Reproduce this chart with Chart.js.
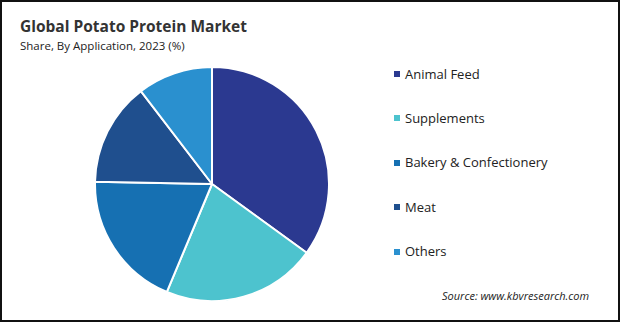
<!DOCTYPE html>
<html>
<head>
<meta charset="utf-8">
<script src="https://cdn.jsdelivr.net/npm/chart.js@4"></script>
<style>
    html, body { margin: 0; padding: 0; background: #fff; }
    #frame {
        position: relative;
        width: 620px;
        height: 322px;
        box-sizing: border-box;
        border: 2px solid #111;
        overflow: hidden;
        font-family: "Open Sans", "Noto Sans", sans-serif;
        color: #222;
    }
    #title {
        position: absolute; left: 18px; top: 13px;
        font-size: 15.5px; font-weight: 700; color: #333;
    }
    #subtitle {
        position: absolute; left: 18px; top: 36px;
        font-size: 11.5px; color: #222;
    }
    #pieBox {
        position: absolute; left: 91.5px; top: 64px;
        width: 236px; height: 236px;
    }
    #legend {
        position: absolute; left: 392px; top: 0;
    }
    .legend-item {
        position: absolute; white-space: nowrap;
        font-size: 13px; line-height: 18px; color: #222;
    }
    .legend-box {
        display: inline-block; width: 6px; height: 6px;
        margin-right: 5px; vertical-align: middle; position: relative; top: -1px;
    }
    #source {
        position: absolute; left: 440px; top: 286px;
        font-size: 11px; font-style: italic; color: #222;
    }
</style>
</head>
<body>
<div id="frame">
    <div id="title">Global Potato Protein Market</div>
    <div id="subtitle">Share, By Application, 2023 (%)</div>
    <div id="pieBox"><canvas id="pieChart"></canvas></div>
    <div id="legend"></div>
    <div id="source">Source: www.kbvresearch.com</div>
</div>
<script>
// Data
const categories = ['Animal Feed', 'Supplements', 'Bakery & Confectionery', 'Meat', 'Others'];
const shares = [35.0, 21.3, 19.0, 14.3, 10.4];
const sliceColors = ['#2b3990', '#4dc3ce', '#1670b2', '#1f4f8e', '#2a90cf'];

// Legend rows (HTML, built from the arrays)
const legendEl = document.getElementById('legend');
categories.forEach((name, i) => {
    const row = document.createElement('div');
    row.className = 'legend-item';
    row.style.top = (62.5 + i * 44.4) + 'px';
    const box = document.createElement('span');
    box.className = 'legend-box';
    box.style.background = sliceColors[i];
    row.appendChild(box);
    row.appendChild(document.createTextNode(name));
    legendEl.appendChild(row);
});

const ctx = document.getElementById('pieChart').getContext('2d');
new Chart(ctx, {
    type: 'pie',
    data: {
        labels: categories,
        datasets: [{
            data: shares,
            backgroundColor: sliceColors,
            borderColor: '#ffffff',
            borderWidth: 2
        }]
    },
    options: {
        responsive: true,
        maintainAspectRatio: false,
        animation: false,
        layout: { padding: 0 },
        plugins: {
            legend: { display: false },
            tooltip: { enabled: false }
        }
    }
});
</script>
</body>
</html>
